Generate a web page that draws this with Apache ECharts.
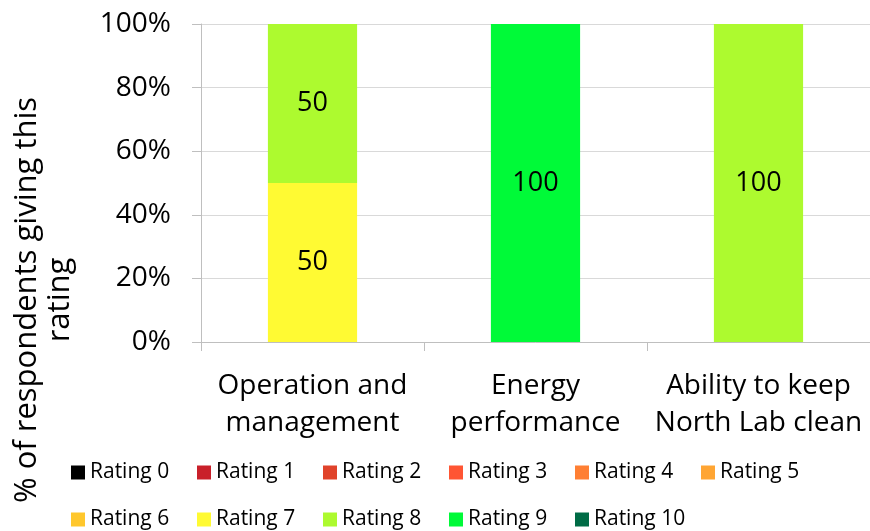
<!DOCTYPE html>
<html><head><meta charset="utf-8">
<script src="https://cdn.jsdelivr.net/npm/echarts@6/dist/echarts.min.js"></script>
<style>html,body{margin:0;padding:0;background:#fff}#c{width:870px;height:531px}</style>
</head><body><div id="c"></div>
<script>
const categories = ["Operation and\nmanagement", "Energy\nperformance", "Ability to keep\nNorth Lab clean"];
const ratingNames = ["Rating 0","Rating 1","Rating 2","Rating 3","Rating 4","Rating 5","Rating 6","Rating 7","Rating 8","Rating 9","Rating 10"];
const rating0 = [0, 0, 0];
const rating1 = [0, 0, 0];
const rating2 = [0, 0, 0];
const rating3 = [0, 0, 0];
const rating4 = [0, 0, 0];
const rating5 = [0, 0, 0];
const rating6 = [0, 0, 0];
const rating7 = [50, 0, 0];
const rating8 = [50, 0, 100];
const rating9 = [0, 100, 0];
const rating10 = [0, 0, 0];
const yTicks = ["0%","20%","40%","60%","80%","100%"];
const yTitle = "% of respondents giving this\nrating";
const values = [rating0,rating1,rating2,rating3,rating4,rating5,rating6,rating7,rating8,rating9,rating10];
const colors = ["#000000","#C9202A","#E0432B","#FF5533","#FF7F33","#FFA533","#FFC72C","#FFFA33","#ADFA2F","#00FA38","#006B45"];
const FONT = "'Open Sans', sans-serif";

const series = ratingNames.map((n, i) => ({
  name: n, type: 'bar', stack: 'total', barWidth: '40%',
  itemStyle: { color: colors[i] },
  label: { show: true, position: 'inside', color: '#000', fontFamily: FONT, fontSize: 27,
    formatter: p => p.value > 0 ? String(p.value) : '' },
  data: values[i]
}));

// one legend component per item so every item sits on a fixed pitch, 6 per row
const legends = ratingNames.map((n, i) => ({
  data: [n], orient: 'horizontal',
  left: 67 + (i % 6) * 126, top: i < 6 ? 458 : 505,
  itemWidth: 14, itemHeight: 14, itemGap: 0, icon: 'rect', padding: 4,
  textStyle: { fontFamily: FONT, fontSize: 21, color: '#000' }
}));

const chart = echarts.init(document.getElementById('c'));
chart.setOption({
  animation: false,
  color: colors,
  grid: { left: 201, right: 0, top: 24, bottom: 189, containLabel: false },
  xAxis: {
    type: 'category', data: categories,
    axisLine: { lineStyle: { color: '#bfbfbf', width: 1 } },
    axisTick: { show: true, length: 9, lineStyle: { color: '#bfbfbf' } },
    axisLabel: { color: '#000', fontFamily: FONT, fontSize: 28, lineHeight: 37, margin: 26, interval: 0 }
  },
  yAxis: {
    type: 'value', min: 0, max: 100, interval: 20,
    axisLine: { show: true, lineStyle: { color: '#bfbfbf' } },
    axisTick: { show: true, length: 9, lineStyle: { color: '#bfbfbf' } },
    splitLine: { lineStyle: { color: '#d9d9d9' } },
    axisLabel: { color: '#000', fontFamily: FONT, fontSize: 28, margin: 30,
      formatter: v => yTicks[Math.round(v / 20)] }
  },
  graphic: [{
    type: 'text', x: 44, y: 300, rotation: Math.PI / 2,
    style: { text: yTitle, fontFamily: FONT, fontSize: 31,
      fill: '#000', align: 'center', verticalAlign: 'middle', lineHeight: 33 }
  }],
  legend: legends,
  series: series
});
</script></body></html>
